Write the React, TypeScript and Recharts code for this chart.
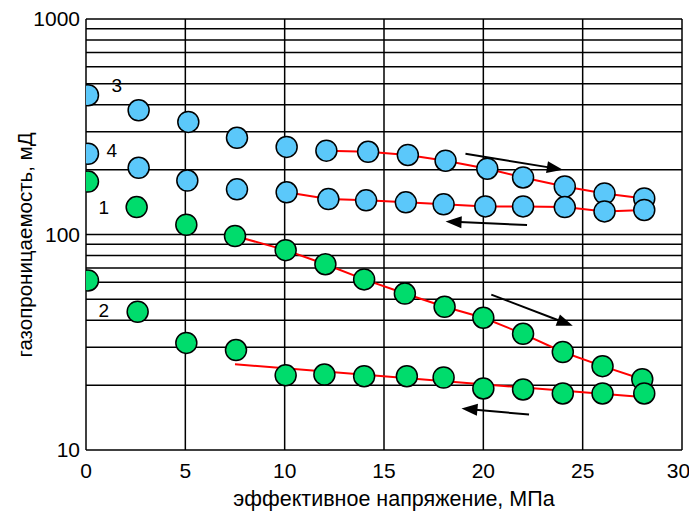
import React from 'react';
import {
  ComposedChart,
  XAxis,
  YAxis,
  CartesianGrid,
  Line,
  Scatter,
  ReferenceLine,
  ReferenceDot,
} from 'recharts';

// effective stress, MPa
const pressure3 = [0.1, 2.65, 5.15, 7.6, 10.1, 12.1, 14.2, 16.2, 18.1, 20.2, 22.0, 24.1, 26.1, 28.1];
const perm3 = [443, 377, 333, 281, 255, 245, 242, 234, 220, 202, 184, 167, 155, 147];

const pressure4 = [0.1, 2.65, 5.1, 7.6, 10.1, 12.2, 14.1, 16.1, 18.0, 20.1, 22.0, 24.1, 26.1, 28.1];
const perm4 = [237, 204, 178, 162, 157, 146, 144, 141, 138, 135, 135, 134, 128, 130];

const pressure1 = [0.1, 2.55, 5.05, 7.5, 10.05, 12.05, 14.0, 16.05, 18.05, 20.0, 22.0, 24.0, 26.0, 28.0];
const perm1 = [176, 134, 111, 98.4, 84.6, 72.8, 61.9, 53.2, 46.2, 41.1, 34.6, 28.5, 24.5, 21.3];

const pressure2 = [0.1, 2.6, 5.05, 7.55, 10.05, 12.0, 14.0, 16.15, 18.0, 20.0, 22.0, 24.0, 26.0, 28.1];
const perm2 = [61.2, 43.8, 31.4, 29.1, 22.2, 22.4, 22.0, 22.0, 21.7, 19.3, 19.1, 18.3, 18.3, 18.3];

// red trend line for curve 2
const trend2X = [7.5, 28.0];
const trend2Y = [25.0, 17.6];

// axis ticks / grid
const xTicks = [0, 5, 10, 15, 20, 25, 30];
const yTicks = [10, 100, 1000];
const xGrid = [5, 10, 15, 20, 25, 30];
const yGrid = [20, 30, 40, 50, 60, 70, 80, 90, 100, 200, 300, 400, 500, 600, 700, 800, 900, 1000];

// curve labels
const curveNames = ['3', '4', '1', '2'];
const curveLabelX = [1.55, 1.3, 0.9, 0.9];
const curveLabelY = [492, 245, 134, 44.3];

// arrows (direction of loading / unloading)
const arrowStartX = [19.1, 22.2, 20.4, 22.3];
const arrowStartY = [237, 110.6, 52.6, 14.6];
const arrowEndX = [24.0, 18.1, 24.5, 18.9];
const arrowEndY = [200, 115, 37.7, 15.6];

const zip = (xs: number[], ys: number[]) => xs.map((x, i) => ({ x, y: ys[i] }));

const s3 = zip(pressure3, perm3);
const s4 = zip(pressure4, perm4);
const s1 = zip(pressure1, perm1);
const s2 = zip(pressure2, perm2);
const red3 = s3.slice(5);
const red4 = s4.slice(4);
const red1 = s1.slice(3);
const red2 = zip(trend2X, trend2Y);

const FONT = 'Liberation Sans, Arial, sans-serif';
const BLUE = '#5bc8fa';
const GREEN = '#00dc6c';

const applyScale = (sc: any, v: number): number | undefined => {
  if (!sc) return undefined;
  if (typeof sc === 'function') return sc(v);
  if (typeof sc.map === 'function') return sc.map(v);
  if (typeof sc.apply === 'function') return sc.apply(v);
  return undefined;
};

const makeDot = (fill: string) => (p: any) => (
  <circle cx={p.cx} cy={p.cy} r={10.5} fill={fill} stroke="#000" strokeWidth={1.5} />
);

const ArrowShape = (p: any) => {
  const { x1, y1, x2, y2 } = p;
  if ([x1, y1, x2, y2].some((v) => typeof v !== 'number' || isNaN(v))) return null;
  const dx = x2 - x1;
  const dy = y2 - y1;
  const len = Math.sqrt(dx * dx + dy * dy);
  const ux = dx / len;
  const uy = dy / len;
  const hl = 16;
  const hw = 6;
  const bx = x2 - ux * hl;
  const by = y2 - uy * hl;
  const px = -uy;
  const py = ux;
  return (
    <g>
      <line x1={x1} y1={y1} x2={bx + ux * 2} y2={by + uy * 2} stroke="#000" strokeWidth={2} />
      <polygon
        points={`${x2},${y2} ${bx + px * hw},${by + py * hw} ${bx - px * hw},${by - py * hw}`}
        fill="#000"
      />
    </g>
  );
};

export default function App() {
  return (
    <div style={{ position: 'absolute', left: 0, top: 0, background: '#fff' }}>
      <ComposedChart width={689} height={512} margin={{ top: 19, right: 7, left: 0, bottom: 0 }}>
        <CartesianGrid
          stroke="#000"
          strokeWidth={1.5}
          horizontalCoordinatesGenerator={({ yAxis }: any) =>
            yGrid.map((v) => applyScale(yAxis?.scale, v)).filter((v) => typeof v === 'number' && !isNaN(v)) as number[]
          }
          verticalCoordinatesGenerator={({ xAxis }: any) =>
            xGrid.map((v) => applyScale(xAxis?.scale, v)).filter((v) => typeof v === 'number' && !isNaN(v)) as number[]
          }
        />
        <XAxis
          dataKey="x"
          type="number"
          domain={[0, 30]}
          ticks={xTicks}
          allowDataOverflow
          height={62}
          tickLine={false}
          tickMargin={7}
          axisLine={{ stroke: '#000', strokeWidth: 1.5 }}
          tick={{ fill: '#000', fontSize: 21, fontFamily: FONT }}
          label={{
            content: () => (
              <text x={394} y={506} textAnchor="middle" fontSize={21.5} fontFamily={FONT} fill="#000">
                эффективное напряжение, МПа
              </text>
            ),
          }}
        />
        <YAxis
          dataKey="y"
          type="number"
          scale="log"
          domain={[10, 1000]}
          ticks={yTicks}
          allowDataOverflow
          width={86}
          tickLine={false}
          tickMargin={0}
          axisLine={{ stroke: '#000', strokeWidth: 1.5 }}
          tick={{ fill: '#000', fontSize: 21, fontFamily: FONT }}
          label={{
            content: () => (
              <text
                x={24}
                y={245}
                transform="rotate(-90, 24, 245)"
                textAnchor="middle"
                dominantBaseline="central"
                fontSize={20.5}
                fontFamily={FONT}
                fill="#000"
              >
                газопроницаемость, мД
              </text>
            ),
          }}
        />
        <Line data={red3} dataKey="y" stroke="#ff0000" strokeWidth={2} dot={false} isAnimationActive={false} />
        <Line data={red4} dataKey="y" stroke="#ff0000" strokeWidth={2} dot={false} isAnimationActive={false} />
        <Line data={red1} dataKey="y" stroke="#ff0000" strokeWidth={2} dot={false} isAnimationActive={false} />
        <Line data={red2} dataKey="y" stroke="#ff0000" strokeWidth={2} dot={false} isAnimationActive={false} />
        <Scatter data={s3} dataKey="y" shape={makeDot(BLUE)} isAnimationActive={false} />
        <Scatter data={s4} dataKey="y" shape={makeDot(BLUE)} isAnimationActive={false} />
        <Scatter data={s1} dataKey="y" shape={makeDot(GREEN)} isAnimationActive={false} />
        <Scatter data={s2} dataKey="y" shape={makeDot(GREEN)} isAnimationActive={false} />
        {arrowStartX.map((x, i) => (
          <ReferenceLine
            key={`arrow-${i}`}
            segment={[
              { x, y: arrowStartY[i] },
              { x: arrowEndX[i], y: arrowEndY[i] },
            ]}
            shape={ArrowShape}
            ifOverflow="visible"
          />
        ))}
        {curveNames.map((name, i) => (
          <ReferenceDot
            key={`lbl-${name}`}
            x={curveLabelX[i]}
            y={curveLabelY[i]}
            ifOverflow="visible"
            shape={(p: any) => (
              <text
                x={p.cx}
                y={p.cy}
                textAnchor="middle"
                dominantBaseline="central"
                fontSize={19}
                fontFamily={FONT}
                fill="#000"
              >
                {name}
              </text>
            )}
          />
        ))}
      </ComposedChart>
    </div>
  );
}
